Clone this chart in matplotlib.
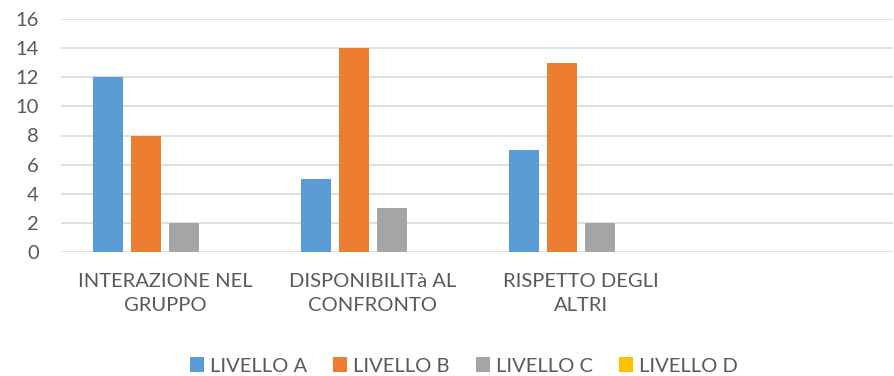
import numpy as np
import matplotlib.pyplot as plt

categories = ["INTERAZIONE NEL\nGRUPPO", "DISPONIBILITà AL\nCONFRONTO", "RISPETTO DEGLI\nALTRI", ""]
series_names = ["LIVELLO A", "LIVELLO B", "LIVELLO C", "LIVELLO D"]
livello_a = [12, 5, 7, 0]
livello_b = [8, 14, 13, 0]
livello_c = [2, 3, 2, 0]
livello_d = [0, 0, 0, 0]
colors = ["#5B9BD5", "#ED7D31", "#A5A5A5", "#FFC000"]

plt.rcParams['font.family'] = ['Lato', 'DejaVu Sans']
text_color = "#595959"

fig = plt.figure(figsize=(8.95, 3.76), dpi=100)
ax = fig.add_axes([61 / 895, 124 / 376, 832 / 895, 233 / 376])

x = np.arange(len(categories))
width = 30 / 208
step = 38 / 208
for i, (name, vals) in enumerate(zip(series_names, [livello_a, livello_b, livello_c, livello_d])):
    ax.bar(x + (i - 1.5) * step, vals, width, color=colors[i], label=name, zorder=3)

ax.set_xlim(-0.5, len(categories) - 0.5)
ax.set_ylim(0, 16)
ax.set_yticks(range(0, 17, 2))
ax.set_xticks(x)
ax.set_xticklabels(categories, linespacing=1.5)
ax.grid(axis='y', color="#D9D9D9", linewidth=1.2, zorder=0)
for s in ax.spines.values():
    s.set_visible(False)
ax.tick_params(axis='both', length=0, labelsize=14.5, colors=text_color)
ax.tick_params(axis='x', pad=15)
ax.tick_params(axis='y', pad=16)

fig.legend(loc='center', bbox_to_anchor=(464 / 895, 1 - 366 / 376), ncol=4, frameon=False,
           fontsize=14.5, labelcolor=text_color, handlelength=0.7, handleheight=0.7,
           handletextpad=0.3, columnspacing=1.3)

fig.savefig("out.png", dpi=100)
